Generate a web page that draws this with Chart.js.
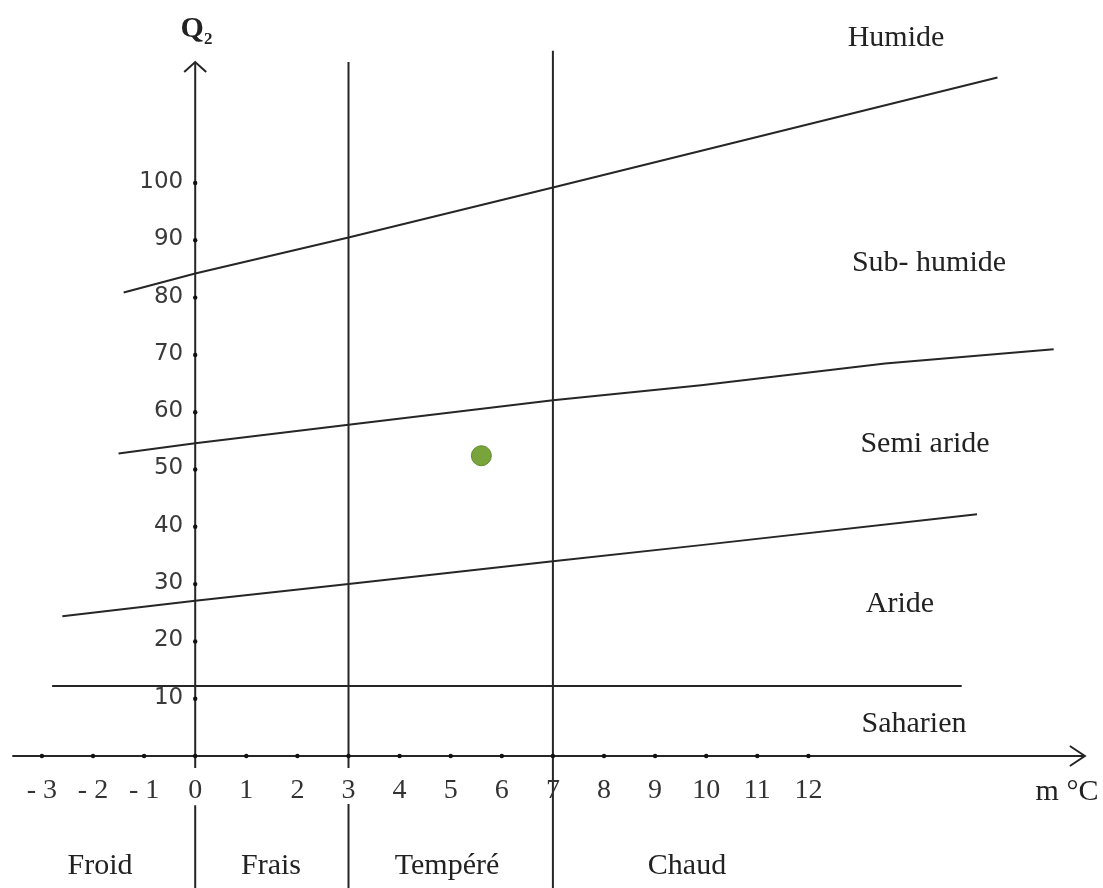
<!DOCTYPE html>
<html>
<head>
<meta charset="utf-8">
<title>Climagramme d'Emberger</title>
<script src="https://cdn.jsdelivr.net/npm/chart.js@4.4.1/dist/chart.umd.min.js"></script>
<style>
  html, body { margin: 0; padding: 0; background: #fff; overflow: hidden; }
  #wrap { width: 1103px; height: 888px; position: relative; }
</style>
</head>
<body>
<div id="wrap"><canvas id="climagram"></canvas></div>
<script>
// ticks of both axes
const xTicks = [-3, -2, -1, 0, 1, 2, 3, 4, 5, 6, 7, 8, 9, 10, 11, 12];
const xTickLabels = ['- 3', '- 2', '- 1', '0', '1', '2', '3', '4', '5', '6', '7', '8', '9', '10', '11', '12'];
const yTicks = [10, 20, 30, 40, 50, 60, 70, 80, 90, 100];
const yTickLabels = ['10', '20', '30', '40', '50', '60', '70', '80', '90', '100'];

// axis extent (m in °C, Q2)
const xAxisExtent = [-3.58, 17.41];
const yAxisTop = 121.1;

// bioclimatic stage limits [m, Q2]
const humideLimit = [[-1.4, 80.9], [0, 84.2], [3, 90.5], [7, 99.2], [15.7, 118.4]];
const semiAridLimit = [[-1.5, 52.8], [0, 54.6], [3, 57.8], [7, 62.1], [9.9, 64.7], [13.5, 68.5], [16.8, 71.0]];
const aridLimit = [[-2.6, 24.4], [0, 27.1], [3, 30.0], [7, 34.0], [9.9, 36.8], [15.3, 42.2]];
const saharanLimit = [[-2.8, 12.2], [15.0, 12.2]];

// thermal variant limits (vertical lines at m = 0, 3, 7)
const thermalLimits = [0, 3, 7];
const thermalTops = [121.1, 121.1, 123.1];
const thermalGaps = [[-2.1, -8.6], [-2.1, -8.4], null];

// station
const station = [5.6, 52.4];

// texts
const stageNames = ['Humide', 'Sub- humide', 'Semi aride', 'Aride', 'Saharien'];
const thermalNames = ['Froid', 'Frais', 'Tempéré', 'Chaud'];

// view window
const xRange = [-3.82, 17.765];
const yRange = [-23.04, 131.94];

const lineColor = '#262626';
const toPoints = arr => arr.map(p => ({ x: p[0], y: p[1] }));

function lineSet(points, width) {
  return {
    type: 'scatter',
    data: points,
    showLine: true,
    borderColor: lineColor,
    borderWidth: width || 2,
    pointRadius: 0,
    tension: 0,
    order: 2
  };
}

const datasets = [];
datasets.push({
  type: 'scatter',
  data: [{ x: station[0], y: station[1] }],
  pointRadius: 10,
  pointHoverRadius: 10,
  backgroundColor: '#79a33b',
  borderColor: '#5f8a2c',
  borderWidth: 1,
  order: 0
});
// axes
datasets.push(lineSet([{ x: xAxisExtent[0], y: 0 }, { x: xAxisExtent[1], y: 0 }]));
thermalLimits.forEach((m, i) => {
  const gap = thermalGaps[i];
  if (gap) {
    datasets.push(lineSet([{ x: m, y: thermalTops[i] }, { x: m, y: gap[0] }]));
    datasets.push(lineSet([{ x: m, y: gap[1] }, { x: m, y: yRange[0] }]));
  } else {
    datasets.push(lineSet([{ x: m, y: thermalTops[i] }, { x: m, y: yRange[0] }]));
  }
});
[humideLimit, semiAridLimit, aridLimit, saharanLimit].forEach(l => datasets.push(lineSet(toPoints(l))));
// tick dots
datasets.push({
  type: 'scatter',
  data: xTicks.map(v => ({ x: v, y: 0 })).concat(yTicks.map(v => ({ x: 0, y: v }))),
  pointRadius: 2.2,
  backgroundColor: '#111',
  borderWidth: 0,
  order: 1
});

const drawExtras = {
  id: 'drawExtras',
  afterDatasetsDraw(chart) {
    const { ctx, scales: { x, y } } = chart;
    const x0 = x.getPixelForValue(0);
    const y0 = y.getPixelForValue(0);
    ctx.save();
    // arrow heads
    ctx.strokeStyle = lineColor;
    ctx.lineWidth = 2;
    const tipX = x.getPixelForValue(xAxisExtent[1]);
    ctx.beginPath();
    ctx.moveTo(tipX - 15, y0 - 10);
    ctx.lineTo(tipX, y0);
    ctx.lineTo(tipX - 15, y0 + 10);
    ctx.stroke();
    const tipY = y.getPixelForValue(yAxisTop);
    ctx.beginPath();
    ctx.moveTo(x0 - 11, tipY + 10);
    ctx.lineTo(x0, tipY);
    ctx.lineTo(x0 + 11, tipY + 10);
    ctx.stroke();

    // tick labels
    ctx.fillStyle = '#333';
    ctx.textBaseline = 'middle';
    ctx.textAlign = 'center';
    ctx.font = '28px "Liberation Serif", serif';
    xTicks.forEach((v, i) => ctx.fillText(xTickLabels[i], x.getPixelForValue(v), y0 + 35));
    ctx.textAlign = 'right';
    ctx.fillStyle = '#3a3a3a';
    ctx.font = '23px "DejaVu Sans", sans-serif';
    yTicks.forEach((v, i) => ctx.fillText(yTickLabels[i], x0 - 12, y.getPixelForValue(v) - 1));

    // axis titles
    ctx.fillStyle = '#222';
    ctx.textAlign = 'center';
    ctx.font = 'bold 30px "Liberation Serif", serif';
    ctx.fillText('Q', x0 - 3, 29);
    ctx.font = 'bold 17px "Liberation Serif", serif';
    ctx.fillText('2', x0 + 13, 40);
    ctx.font = '30px "Liberation Serif", serif';
    ctx.fillText('m °C', 1067, 792);

    // stage names
    const stagePos = [[896, 38], [929, 263], [925, 444], [900, 604], [914, 724]];
    stageNames.forEach((t, i) => ctx.fillText(t, stagePos[i][0], stagePos[i][1]));
    const thermalPos = [[100, 866], [271, 866], [447, 866], [687, 866]];
    thermalNames.forEach((t, i) => ctx.fillText(t, thermalPos[i][0], thermalPos[i][1]));
    ctx.restore();
  }
};

new Chart(document.getElementById('climagram'), {
  type: 'scatter',
  data: { datasets: datasets },
  options: {
    responsive: true,
    maintainAspectRatio: false,
    animation: false,
    layout: { padding: 0, autoPadding: false },
    plugins: { legend: { display: false }, tooltip: { enabled: false } },
    scales: {
      x: { type: 'linear', min: xRange[0], max: xRange[1], display: false },
      y: { type: 'linear', min: yRange[0], max: yRange[1], display: false }
    }
  },
  plugins: [drawExtras]
});
</script>
</body>
</html>
